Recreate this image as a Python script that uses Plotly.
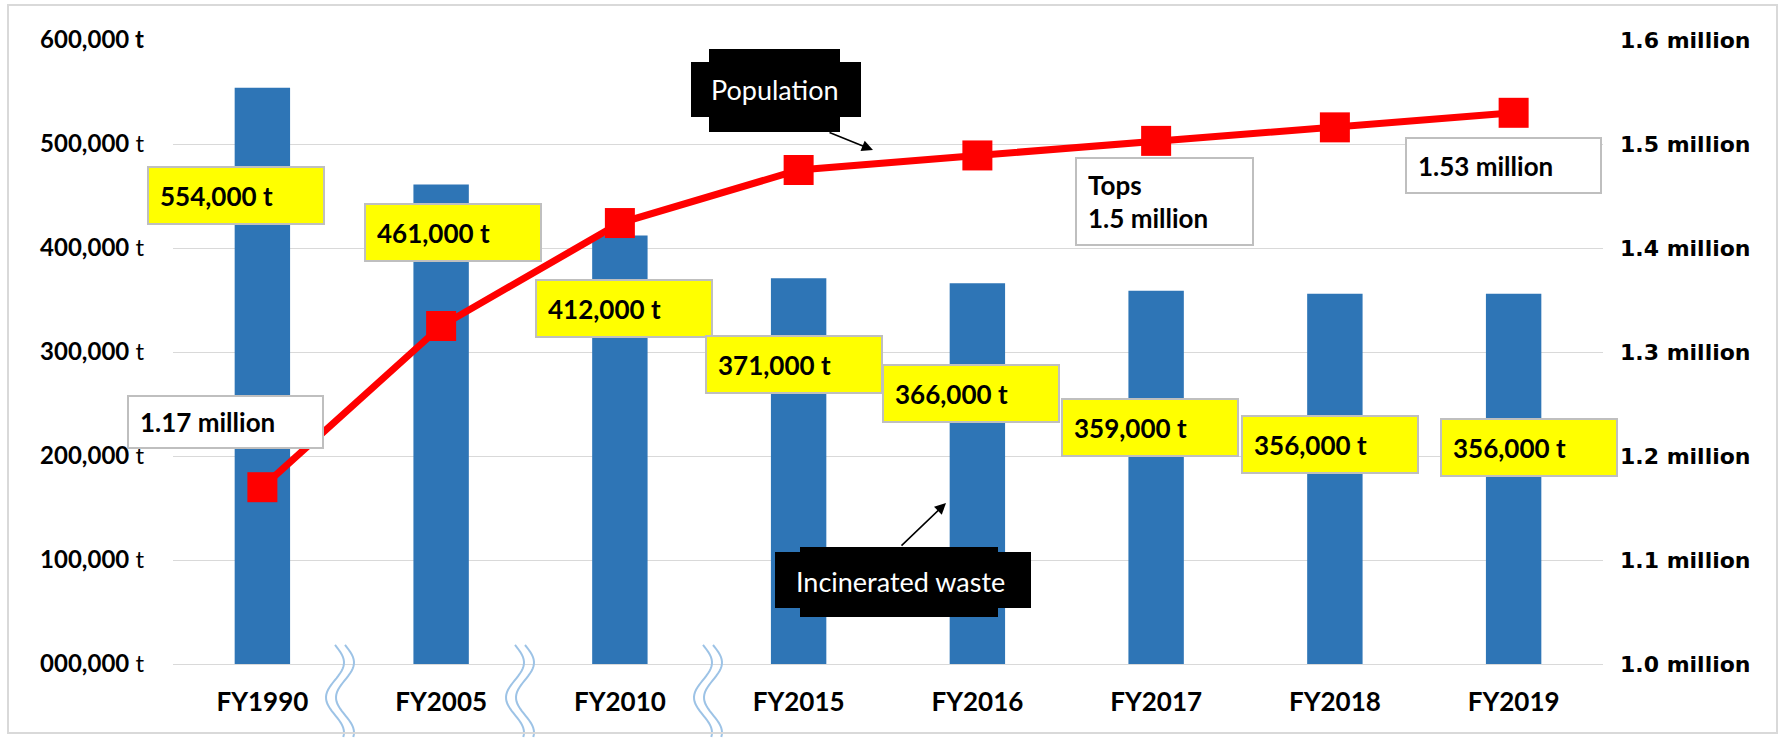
import numpy as np
import plotly.graph_objects as go

# ---------------- data ----------------
categories = ["FY1990", "FY2005", "FY2010", "FY2015", "FY2016", "FY2017", "FY2018", "FY2019"]
waste_t = [554000, 461000, 412000, 371000, 366000, 359000, 356000, 356000]
population = [1170000, 1325000, 1424000, 1475000, 1489000, 1503000, 1516000, 1530000]

left_tick_vals = [0, 100000, 200000, 300000, 400000, 500000, 600000]
left_tick_text = ["000,000 t", "100,000 t", "200,000 t", "300,000 t", "400,000 t", "500,000 t", "600,000 t"]
right_tick_vals = [1000000, 1100000, 1200000, 1300000, 1400000, 1500000, 1600000]
right_tick_text = ["1.0 million", "1.1 million", "1.2 million", "1.3 million", "1.4 million", "1.5 million", "1.6 million"]

callout_pop = "Population"
callout_waste = "Incinerated waste"

# ---------------- layout geometry ----------------
W, H = 1783, 738
L, R, T, B = 173, 180, 40, 74
PW, PH = W - L - R, H - T - B


def px(x):
    return (x - L) / PW


def py(y):
    return (H - B - y) / PH


FONT = "Lato"
BLUE = "#2E75B6"
RED = "#FF0000"
GRID = "#D9D9D9"

fig = go.Figure()

fig.add_trace(go.Bar(
    x=categories, y=waste_t, width=0.31,
    marker=dict(color=BLUE, line=dict(width=0)),
    name="Incinerated waste", showlegend=False, hoverinfo="x+y",
))

fig.add_trace(go.Scatter(
    x=categories, y=population, yaxis="y2", mode="lines+markers",
    line=dict(color=RED, width=7),
    marker=dict(symbol="square", size=30, color=RED),
    name="Population", showlegend=False, cliponaxis=False,
))

annotations = []
shapes = []

# yellow data labels for bars
waste_label_shift = [(-26, -108), (12, -48), (4, -73), (-5, -86), (-6, -110), (-6, -137), (-5, -151), (15, -154)]
for c, v, (dx, dy) in zip(categories, waste_t, waste_label_shift):
    annotations.append(dict(
        x=c, y=v, xref="x", yref="y", xshift=dx, yshift=dy,
        text=f"<b>{v:,} t</b>", showarrow=False, align="left",
        width=152, height=33, borderpad=11, borderwidth=2,
        bgcolor="#FFFF00", bordercolor="#BFBFBF",
        font=dict(family=FONT, size=26, color="black"),
    ))

# white population labels
pop_labels = [
    (0, f"<b>{population[0] / 1e6:.2f} million</b>", -37, 65, 171, 28),
    (5, f"<b>Tops<br>{population[5] / 1e6:.1f} million</b>", 8, -61, 153, 63),
    (7, f"<b>{population[7] / 1e6:.2f} million</b>", -10, -53, 171, 31),
]
for i, txt, dx, dy, w, h in pop_labels:
    annotations.append(dict(
        x=categories[i], y=population[i], xref="x", yref="y2", xshift=dx, yshift=dy,
        text=txt, showarrow=False, align="left",
        width=w, height=h, borderpad=11, borderwidth=2,
        bgcolor="white", bordercolor="#BFBFBF",
        font=dict(family=FONT, size=26, color="black"),
    ))

# black callouts (cross-shaped boxes)
for (x0, y0, x1, y1) in [(691, 62, 861, 117), (709, 49, 840, 132),
                         (775, 552, 1031, 608), (800, 547, 998, 617)]:
    shapes.append(dict(type="rect", xref="paper", yref="paper",
                       x0=px(x0), x1=px(x1), y0=py(y1), y1=py(y0),
                       fillcolor="black", line=dict(width=0), layer="above"))

annotations.append(dict(x=px(775), y=py(89), xref="paper", yref="paper",
                        xanchor="center", yanchor="middle",
                        text=callout_pop, showarrow=False,
                        font=dict(family=FONT, size=27, color="white")))
annotations.append(dict(x=px(901), y=py(581), xref="paper", yref="paper",
                        xanchor="center", yanchor="middle",
                        text=callout_waste, showarrow=False,
                        font=dict(family=FONT, size=27, color="white")))

# arrows
annotations.append(dict(x=px(873), y=py(150), xref="paper", yref="paper", text="",
                        showarrow=True, ax=-45, ay=-18, arrowhead=2, arrowsize=1.4,
                        arrowwidth=1.6, arrowcolor="black"))
annotations.append(dict(x=px(946), y=py(503), xref="paper", yref="paper", text="",
                        showarrow=True, ax=-46, ay=44, arrowhead=2, arrowsize=1.4,
                        arrowwidth=1.6, arrowcolor="black"))

# axis-break squiggles
for xc in [340, 520, 708]:
    ys = np.linspace(645, 737, 40)
    for off in (-5, 5):
        xs = xc + off + 9 * np.sin(2 * np.pi * (ys - 645) / 70)
        path = "M " + " L ".join(f"{px(a):.5f},{py(b):.5f}" for a, b in zip(xs, ys))
        shapes.append(dict(type="path", xref="paper", yref="paper", path=path,
                           line=dict(color="#9DC3E6", width=2)))

# outer frame
shapes.append(dict(type="rect", xref="paper", yref="paper",
                   x0=px(8), x1=px(1777), y0=py(733), y1=py(5),
                   line=dict(color=GRID, width=2), fillcolor="rgba(0,0,0,0)"))

fig.update_layout(
    width=W, height=H,
    margin=dict(l=L, r=R, t=T, b=B, pad=0),
    paper_bgcolor="white", plot_bgcolor="white",
    showlegend=False,
    xaxis=dict(type="category", range=[-0.5, 7.5], showline=True, linecolor=GRID, linewidth=1,
               ticks="", showgrid=False, ticklabelstandoff=15,
               tickfont=dict(family=FONT, size=26, color="black"),
               tickvals=categories, ticktext=[f"<b>{c}</b>" for c in categories]),
    yaxis=dict(range=[0, 600000], tickvals=left_tick_vals,
               ticktext=[f"<b>{t}</b>" if t.startswith("600") else f"<b>{t[:-2]}</b> t" for t in left_tick_text],
               showgrid=True, gridcolor=GRID, gridwidth=1, zeroline=False, showline=False,
               ticks="", ticklabelstandoff=28,
               tickfont=dict(family=FONT, size=24, color="black")),
    yaxis2=dict(range=[1000000, 1600000], overlaying="y", side="right",
                tickvals=right_tick_vals, ticktext=[f"<b>{t}</b>" for t in right_tick_text],
                showgrid=False, zeroline=False, showline=False, ticks="", ticklabelstandoff=16,
                tickfont=dict(family="DejaVu Sans", size=22, color="black")),
    annotations=annotations,
    shapes=shapes,
    bargap=0.69,
)

fig.write_html("out.html")
